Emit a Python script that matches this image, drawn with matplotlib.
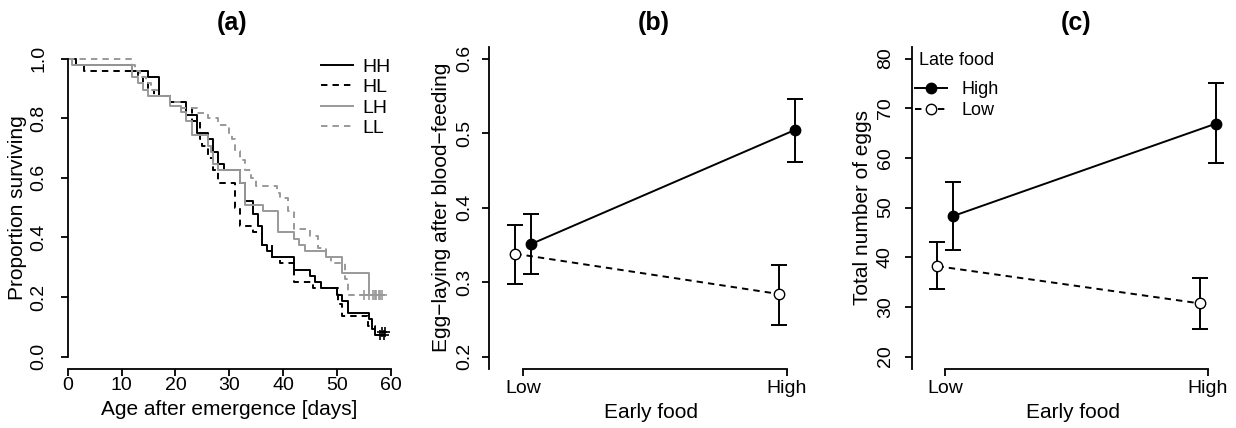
import matplotlib
matplotlib.use("Agg")
import matplotlib.pyplot as plt
import numpy as np

plt.rcParams['font.family'] = ['Liberation Sans', 'DejaVu Sans']
plt.rcParams['font.size'] = 15

# (a) survival curves: time of each drop and survival after it
hh_t = [0, 1.5, 12, 15, 17, 19, 22, 24, 26, 27, 28, 29, 32, 33, 34.5, 35.3, 36, 37, 38, 42, 45, 46, 47, 50, 51, 52, 56, 56.5, 57]
hh_s = [1.0, 0.979, 0.958, 0.938, 0.875, 0.854, 0.812, 0.75, 0.729, 0.688, 0.646, 0.625, 0.583, 0.521, 0.479, 0.438, 0.375, 0.354, 0.333, 0.292, 0.271, 0.25, 0.229, 0.208, 0.188, 0.146, 0.125, 0.094, 0.073]
hh_cens = [58, 58.7]

hl_t = [0, 1.5, 3, 13, 14, 15, 16, 19, 21, 23, 24.5, 25, 26, 27, 28, 31, 32, 34.5, 36, 38, 39.5, 42, 45.5, 50.3, 51, 55.8, 57]
hl_s = [1.0, 0.979, 0.958, 0.938, 0.917, 0.896, 0.875, 0.854, 0.833, 0.792, 0.729, 0.708, 0.667, 0.625, 0.583, 0.5, 0.438, 0.417, 0.375, 0.333, 0.313, 0.25, 0.229, 0.177, 0.135, 0.104, 0.083]
hl_cens = [58.3, 59]

lh_t = [0, 0.7, 12, 13, 14, 15, 19, 21, 22, 23, 26, 26.7, 27, 28, 32, 33, 36.3, 39, 42, 43, 44, 48, 51, 56]
lh_s = [1.0, 0.979, 0.938, 0.917, 0.896, 0.875, 0.84, 0.82, 0.79, 0.745, 0.708, 0.688, 0.646, 0.625, 0.583, 0.51, 0.49, 0.417, 0.396, 0.375, 0.354, 0.333, 0.281, 0.208]
lh_cens = [56.7, 57.3, 57.9, 58.4]

ll_t = [0, 12, 12.5, 13.5, 14.5, 15.5, 16.5, 19, 21, 24, 26, 28, 30, 30.5, 31, 32, 33, 34, 35, 38.8, 39.5, 41, 42, 45, 46.5, 48, 49, 51.5, 52]
ll_s = [1.0, 0.979, 0.958, 0.938, 0.917, 0.896, 0.875, 0.854, 0.833, 0.818, 0.8, 0.776, 0.75, 0.729, 0.69, 0.66, 0.625, 0.6, 0.573, 0.55, 0.531, 0.49, 0.427, 0.406, 0.365, 0.333, 0.313, 0.26, 0.208]
ll_cens = [55, 56, 57, 58]

# (b), (c) means with error bar ends, per early food level
early = ['Low', 'High']
b_high = [0.351, 0.504]
b_high_lo = [0.311, 0.461]
b_high_hi = [0.391, 0.546]
b_low = [0.338, 0.284]
b_low_lo = [0.297, 0.243]
b_low_hi = [0.377, 0.323]

c_high = [48.3, 66.9]
c_high_lo = [41.5, 58.9]
c_high_hi = [55.2, 75.0]
c_low = [38.2, 30.7]
c_low_lo = [33.6, 25.5]
c_low_hi = [43.1, 35.8]

grey = '#999999'
lw = 1.4
dash = (3.3, 2.6)

fig = plt.figure(figsize=(12.36, 4.28), dpi=100)
axa = fig.add_axes([0.0548, 0.139, 0.2613, 0.752])
axb = fig.add_axes([0.3959, 0.139, 0.2617, 0.752])
axc = fig.add_axes([0.7376, 0.139, 0.2608, 0.752])

for ax in (axa, axb, axc):
    for s in ('top', 'right'):
        ax.spines[s].set_visible(False)
    for s in ('left', 'bottom'):
        ax.spines[s].set_linewidth(1.3)
    ax.tick_params(direction='out', length=5.3, width=1.3, labelsize=14)
    ax.tick_params(axis='y', labelrotation=90)

# ---- (a)
curves = [(hh_t, hh_s, hh_cens, 'black', '-', 'HH'),
          (hl_t, hl_s, hl_cens, 'black', '--', 'HL'),
          (lh_t, lh_s, lh_cens, grey, '-', 'LH'),
          (ll_t, ll_s, ll_cens, grey, '--', 'LL')]
handles = []
for t, s, cens, col, ls, lab in curves:
    tt = list(t) + [max(cens)]
    ss = list(s) + [s[-1]]
    ln, = axa.step(tt, ss, where='post', color=col, lw=lw, label=lab)
    if ls == '--':
        ln.set_dashes(dash)
    axa.plot(cens, [s[-1]] * len(cens), ls='none', marker='+', ms=7, mew=1.2, color=col)
    handles.append(ln)

axa.set_xlim(0, 60)
axa.set_ylim(-0.04, 1.04)
axa.spines['left'].set_bounds(0, 1)
axa.set_xticks(np.arange(0, 61, 10))
axa.set_yticks(np.arange(0, 1.01, 0.2))
axa.set_yticklabels(['0.0', '0.2', '0.4', '0.6', '0.8', '1.0'])
axa.tick_params(axis='x', pad=1)
axa.tick_params(axis='y', pad=9.5)
axa.set_xlabel('Age after emergence [days]', va='center')
axa.xaxis.set_label_coords(0.5, -0.128)
axa.set_ylabel('Proportion surviving', va='center')
axa.yaxis.set_label_coords(-0.154, 0.5)
axa.legend(handles=handles, loc='upper right', bbox_to_anchor=(1.0, 0.965), frameon=False,
           fontsize=14, handlelength=1.65, handletextpad=0.5, labelspacing=0.15,
           borderaxespad=0, borderpad=0)
axa.set_title('(a)', fontweight='bold', fontsize=18, x=0.51, y=1.075, va='center', pad=0)


def interaction(ax, hi_m, hi_lo, hi_hi, lo_m, lo_lo, lo_hi, ylim, yticks):
    x = np.arange(1, len(early) + 1)
    xh = x + 0.03
    xl = x - 0.03
    for xx, m, l, h in ((xl, lo_m, lo_lo, lo_hi), (xh, hi_m, hi_lo, hi_hi)):
        m = np.array(m)
        ax.errorbar(xx, m, yerr=[m - np.array(l), np.array(h) - m], fmt='none',
                    ecolor='black', elinewidth=lw, capsize=5.5, capthick=lw, zorder=2)
    lh, = ax.plot(xh, hi_m, color='black', lw=lw, marker='o', ms=7.5,
                  mfc='black', mec='black', mew=1.0, label='High', zorder=3)
    ll, = ax.plot(xl, lo_m, color='black', lw=lw, marker='o', ms=7.5,
                  mfc='white', mec='black', mew=1.0, label='Low', zorder=3)
    ll.set_dashes(dash)
    ax.set_xlim(0.872, 2.099)
    ax.set_ylim(*ylim)
    ax.spines['bottom'].set_bounds(1, 2)
    ax.set_xticks(x)
    ax.set_xticklabels(early)
    ax.set_yticks(yticks)
    ax.tick_params(axis='x', pad=3)
    ax.set_xlabel('Early food', va='center')
    ax.xaxis.set_label_coords(0.5, -0.138)
    return lh, ll


interaction(axb, b_high, b_high_lo, b_high_hi, b_low, b_low_lo, b_low_hi,
            (0.184, 0.616), [0.2, 0.3, 0.4, 0.5, 0.6])
axb.tick_params(axis='y', pad=6.5)
axb.set_ylabel('Egg\u2212laying after blood\u2212feeding', va='center')
axb.yaxis.set_label_coords(-0.147, 0.5)
axb.set_title('(b)', fontweight='bold', fontsize=18, x=0.509, y=1.075, va='center', pad=0)

hl_line, ll_line = interaction(axc, c_high, c_high_lo, c_high_hi, c_low, c_low_lo, c_low_hi,
                               (17.6, 82.4), [20, 30, 40, 50, 60, 70, 80])
axc.tick_params(axis='y', pad=7.5)
axc.set_ylabel('Total number of eggs', va='center')
axc.yaxis.set_label_coords(-0.151, 0.5)
axc.set_title('(c)', fontweight='bold', fontsize=18, x=0.51, y=1.075, va='center', pad=0)
axc.text(0.0227, 0.9565, 'Late food', transform=axc.transAxes, fontsize=13,
         ha='left', va='center')
axc.legend(handles=[hl_line, ll_line], loc='upper left',
           bbox_to_anchor=(0.01, 0.893), frameon=False, fontsize=13,
           handlelength=1.77, handletextpad=0.8, labelspacing=0.22,
           borderaxespad=0, borderpad=0)

for ax in (axa, axb, axc):
    for lab in ax.get_yticklabels():
        lab.set_va('center')

fig.savefig('out.png', dpi=100)
